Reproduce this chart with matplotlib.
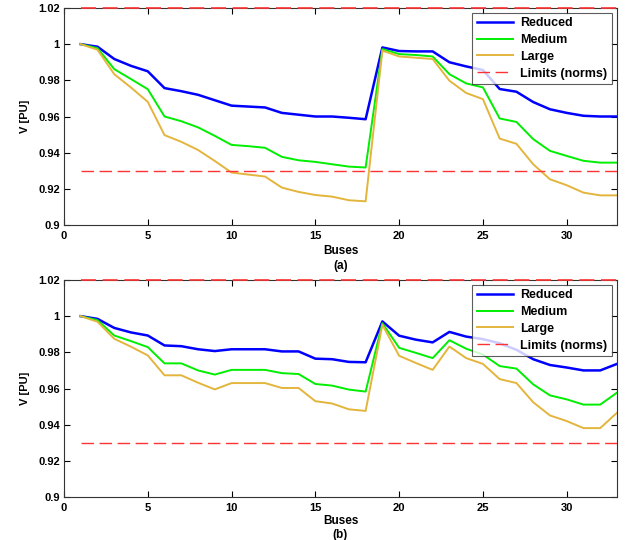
import numpy as np
import matplotlib
matplotlib.use("Agg")
import matplotlib.pyplot as plt

plt.rcParams['font.family'] = ['Liberation Sans', 'DejaVu Sans']
plt.rcParams['font.weight'] = 'bold'

# bus numbers
buses = np.arange(1, 34)

# case (a)
red_a = [1.0, 0.9986, 0.9918, 0.988, 0.985, 0.9757, 0.974, 0.972, 0.969, 0.966,
         0.9655, 0.965, 0.962, 0.961, 0.960, 0.960, 0.9593, 0.9585, 0.9982, 0.9962,
         0.996, 0.996, 0.990, 0.9877, 0.9857, 0.9752, 0.9737, 0.968, 0.964, 0.962,
         0.9604, 0.960, 0.960]
med_a = [1.0, 0.9978, 0.9862, 0.9807, 0.9751, 0.960, 0.9574, 0.954, 0.9493, 0.9443,
         0.9436, 0.9427, 0.9377, 0.9358, 0.9349, 0.9336, 0.9323, 0.9318, 0.9973, 0.9945,
         0.994, 0.9932, 0.9834, 0.9783, 0.9761, 0.9589, 0.957, 0.9475, 0.941, 0.9382,
         0.9355, 0.9345, 0.9345]
lar_a = [1.0, 0.9969, 0.9834, 0.976, 0.9681, 0.9497, 0.946, 0.9415, 0.9354, 0.929,
         0.9279, 0.9268, 0.9207, 0.9183, 0.9166, 0.9157, 0.9137, 0.9131, 0.9964, 0.9932,
         0.9925, 0.9918, 0.9798, 0.973, 0.9696, 0.9478, 0.9449, 0.9336, 0.9253, 0.922,
         0.9179, 0.9164, 0.9164]

# case (b)
red_b = [1.0, 0.9985, 0.9935, 0.991, 0.9893, 0.9838, 0.9834, 0.9817, 0.9807, 0.9817,
         0.9817, 0.9817, 0.9805, 0.9805, 0.9765, 0.9762, 0.9747, 0.9745, 0.9971, 0.9892,
         0.987, 0.9855, 0.9913, 0.9887, 0.9873, 0.985, 0.9814, 0.9762, 0.973, 0.9716,
         0.970, 0.970, 0.9736]
med_b = [1.0, 0.9978, 0.9893, 0.9862, 0.9829, 0.9739, 0.9739, 0.970, 0.9677, 0.9703,
         0.9703, 0.9703, 0.9685, 0.968, 0.9625, 0.9616, 0.9594, 0.9583, 0.9961, 0.9825,
         0.9797, 0.9768, 0.9867, 0.982, 0.9788, 0.9724, 0.971, 0.9623, 0.9562, 0.954,
         0.9511, 0.9511, 0.9577]
lar_b = [1.0, 0.9969, 0.9875, 0.9831, 0.9783, 0.9673, 0.9673, 0.9632, 0.9595, 0.963,
         0.963, 0.963, 0.9603, 0.9603, 0.953, 0.9517, 0.9485, 0.9476, 0.9952, 0.9781,
         0.9741, 0.9703, 0.9832, 0.9768, 0.9736, 0.9652, 0.963, 0.9524, 0.9451, 0.942,
         0.9381, 0.9381, 0.9466]

v_min = 0.93
v_max = 1.02
yticks = [0.9, 0.92, 0.94, 0.96, 0.98, 1.0, 1.02]
ytick_labels = ['0.9', '0.92', '0.94', '0.96', '0.98', '1', '1.02']

fig = plt.figure(figsize=(6.26, 5.40), dpi=100)
ax1 = fig.add_axes([0.1022, 0.5833, 0.8834, 0.4019])
ax2 = fig.add_axes([0.1022, 0.0796, 0.8834, 0.4019])

# (axes, series..., tag, xlabel pad, line spacing) - bottom one squeezed to fit the figure
panels = [(ax1, red_a, med_a, lar_a, '(a)', 3, 1.4),
          (ax2, red_b, med_b, lar_b, '(b)', 2, 1.15)]

for ax, r, m, l, tag, lpad, lsp in panels:
    ax.plot(buses, r, color='#0000ff', lw=1.8, label='Reduced')
    ax.plot(buses, m, color='#00ee00', lw=1.4, label='Medium')
    ax.plot(buses, l, color='#e3b53c', lw=1.4, label='Large')
    ax.plot([1, 33], [v_min, v_min], color='#ff3333', lw=1.0, dashes=(9, 4), label='Limits (norms)')
    ax.plot([1, 33], [v_max, v_max], color='#ff3333', lw=1.2, dashes=(9, 4), clip_on=False, zorder=3)
    ax.set_xlim(0, 33)
    ax.set_ylim(0.9, 1.02)
    ax.set_xticks([0, 5, 10, 15, 20, 25, 30])
    ax.set_yticks(yticks)
    ax.set_yticklabels(ytick_labels)
    ax.tick_params(direction='in', top=True, right=True, length=4, labelsize=8, pad=3)
    ax.tick_params(axis='x', pad=4)
    for s in ax.spines.values():
        s.set_color('#333333')
        s.set_linewidth(0.8)
    ax.set_ylabel('V [PU]', fontsize=8, fontweight='bold', labelpad=6)
    ax.set_xlabel('Buses\n' + tag, fontsize=8.5, fontweight='bold', labelpad=lpad, linespacing=lsp)
    leg = ax.legend(loc='upper right', fontsize=9, frameon=True, fancybox=False,
                    edgecolor='#333333', borderpad=0.35, labelspacing=0.38,
                    handlelength=2.9, handletextpad=0.6, borderaxespad=0.4)
    leg.get_frame().set_linewidth(0.8)

fig.savefig('out.png', dpi=100)
